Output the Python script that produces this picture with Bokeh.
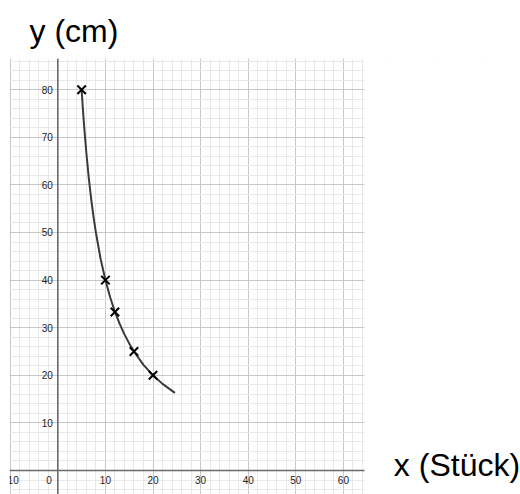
from bokeh.plotting import figure
from bokeh.models import (Range1d, SingleIntervalTicker, Span, Title, Label,
                          BoxAnnotation, ColumnDataSource)
from bokeh.embed import file_html
from bokeh.resources import INLINE
from bokeh.core.properties import value

# data points (x in Stück, y in cm)
pts_x = [5, 10, 12, 16, 20]
pts_y = [80, 40, 33.3, 25, 20]

# curve
curve_x = [5, 5.25, 5.5, 5.75, 6, 6.5, 7, 7.5, 8, 9, 10, 11, 12, 13, 14, 15, 16, 18, 20, 22, 24.6]
curve_y = [80, 76.2, 72.7, 69.6, 66.7, 61.5, 57.1, 53.3, 50, 44.4, 40, 36.4, 33.3, 30.8, 28.6, 26.7, 25, 22.2, 20, 18.2, 16.3]

x_ticks = [-10, 10, 20, 30, 40, 50, 60]
x_tick_labels = ["−10", "10", "20", "30", "40", "50", "60"]
y_ticks = [10, 20, 30, 40, 50, 60, 70, 80]
y_tick_labels = ["10", "20", "30", "40", "50", "60", "70", "80"]

# visible extent of the grid
grid_x_min, grid_x_max = -10.15, 64.43
grid_y_min, grid_y_max = -5.04, 86.55

FONT = "Liberation Sans"
LABEL_COLOR = "#222222"

p = figure(width=520, height=494, frame_width=511, frame_height=436,
           x_range=Range1d(grid_x_min, grid_x_min + 511 / 4.76),
           y_range=Range1d(grid_y_min, grid_y_max),
           output_backend="svg", toolbar_location=None,
           min_border_left=9, min_border_right=0, min_border_top=58, min_border_bottom=0)
p.outline_line_color = None
p.xaxis.visible = False
p.yaxis.visible = False
p.xaxis.ticker = SingleIntervalTicker(interval=10, num_minor_ticks=5)
p.yaxis.ticker = SingleIntervalTicker(interval=10, num_minor_ticks=5)
for g in (p.xgrid, p.ygrid):
    g.grid_line_color = "#c8c8c8"
    g.grid_line_width = 1
    g.minor_grid_line_color = "#e8e8e8"
    g.minor_grid_line_width = 1

# axes through the origin
p.add_layout(Span(location=0, dimension="width", line_color="#6a6a6a", line_width=1.6))
p.add_layout(Span(location=0, dimension="height", line_color="#6a6a6a", line_width=1.6))

# tick labels
xs = ColumnDataSource(dict(x=x_ticks, y=[0] * len(x_ticks), t=x_tick_labels))
p.text(x="x", y="y", text="t", source=xs, text_align="center", text_baseline="middle",
       y_offset=9, text_font=value(FONT), text_font_size="10px", text_color=LABEL_COLOR)
ys = ColumnDataSource(dict(x=[0] * len(y_ticks), y=y_ticks, t=y_tick_labels))
p.text(x="x", y="y", text="t", source=ys, text_align="right", text_baseline="middle",
       x_offset=-5, text_font=value(FONT), text_font_size="10px", text_color=LABEL_COLOR)
p.text(x=[0], y=[0], text=["0"], text_align="right", text_baseline="middle",
       x_offset=-6, y_offset=9, text_font=value(FONT), text_font_size="10px", text_color=LABEL_COLOR)

# curve and points
p.line(curve_x, curve_y, line_color="#3a3a3a", line_width=2)
p.scatter(pts_x, pts_y, marker="x", size=12, line_color="black", line_width=2)

# blank area right of the grid
p.add_layout(BoxAnnotation(left=grid_x_max, fill_color="white", fill_alpha=1.0,
                           line_color=None))

# axis titles
p.add_layout(Title(text="y (cm)", align="left", offset=20, standoff=20,
                   text_font=FONT, text_font_size="32px", text_font_style="normal",
                   text_color="black"), "above")
p.add_layout(Label(x=70.6, y=1.2, text="x (Stück)",
                   text_font=FONT, text_font_size="32px", text_color="black",
                   text_baseline="alphabetic", text_align="left"))

open("out.html", "w").write(file_html(p, INLINE))
